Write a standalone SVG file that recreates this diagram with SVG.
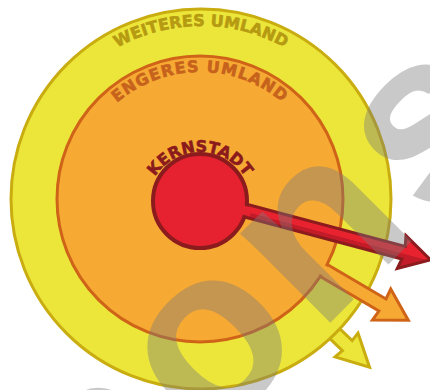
<svg xmlns="http://www.w3.org/2000/svg" width="430" height="390" viewBox="0 0 430 390">
<defs>
<style>
.lbl{font-family:"DejaVu Sans","Liberation Sans",sans-serif;font-weight:bold;font-size:16px;stroke-width:0.6px;paint-order:stroke}
.wm{font-family:"Liberation Sans","DejaVu Sans",sans-serif;font-weight:bold;font-size:240px;fill:#7a7a7a;opacity:0.4}
</style>
<path id="arcOuter" d="M28,199 A173,173 0 0 1 374,199"/>
<path id="arcMid" d="M73,199 A127,127 0 0 1 327,199"/>
<path id="arcCore" d="M147,205 A53,53 0 0 1 253,205"/>
<linearGradient id="redShade" gradientUnits="userSpaceOnUse" x1="0" y1="-7" x2="0" y2="7">
<stop offset="0" stop-color="#e8232f"/>
<stop offset="0.55" stop-color="#e8232f"/>
<stop offset="0.6" stop-color="#c41b28"/>
<stop offset="1" stop-color="#c41b28"/>
</linearGradient>
</defs>
<rect width="430" height="390" fill="#ffffff"/>

<g id="connectors">
<g id="arrow-yellow" transform="translate(330,329) rotate(44)">
<polygon points="-6,-7 24,-7 23,-16.5 55,0 23,16.5 24,7 -6,7" fill="#ece63a" stroke="#c9ad10" stroke-width="3"/>
</g>
</g>

<g id="weiteres-umland">
<circle cx="201" cy="199" r="190" fill="#ece63a" stroke="#c9ad10" stroke-width="3"/>
<rect x="-8" y="-5" width="12" height="10" fill="#ece63a" transform="translate(330,329) rotate(44)"/>
<text class="lbl" fill="#b59a12" stroke="#b59a12"><textPath href="#arcOuter" startOffset="50%" text-anchor="middle">WEITERES UMLAND</textPath></text>
</g>

<g id="arrow-orange-g">
<g id="arrow-orange" transform="translate(323,270) rotate(30.5)">
<polygon points="-6,-7 69,-7 68,-18 99,0 68,18 69,7 -6,7" fill="#f6a933" stroke="#cf6418" stroke-width="3"/>
</g>
</g>

<g id="engeres-umland">
<circle cx="200" cy="199" r="143" fill="#f6a933" stroke="#cf6418" stroke-width="3"/>
<rect x="-8" y="-5" width="12" height="10" fill="#f6a933" transform="translate(323,270) rotate(30.5)"/>
<text class="lbl" fill="#c6621c" stroke="#c6621c" letter-spacing="1"><textPath href="#arcMid" startOffset="50%" text-anchor="middle">ENGERES UMLAND</textPath></text>
</g>

<g id="arrow-red-g">
<g id="arrow-red" transform="translate(247,211) rotate(14.9)">
<polygon points="-6,-6.5 162,-6.5 160,-17 190,0 160,17 162,6.5 -6,6.5" fill="url(#redShade)" stroke="#8c1b1e" stroke-width="3"/>
</g>
</g>

<g id="kernstadt">
<circle cx="200" cy="201" r="47" fill="#e62230" stroke="#8c1b1e" stroke-width="4"/>
<rect x="-8" y="-4.5" width="12" height="9" fill="#e62230" transform="translate(247,211) rotate(14.9)"/>
<text class="lbl" fill="#8b1a1d" stroke="#8b1a1d"><textPath href="#arcCore" startOffset="50%" text-anchor="middle">KERNSTADT</textPath></text>
</g>

<text class="wm" letter-spacing="10" transform="translate(97,556) rotate(-45)">pons</text>
</svg>
